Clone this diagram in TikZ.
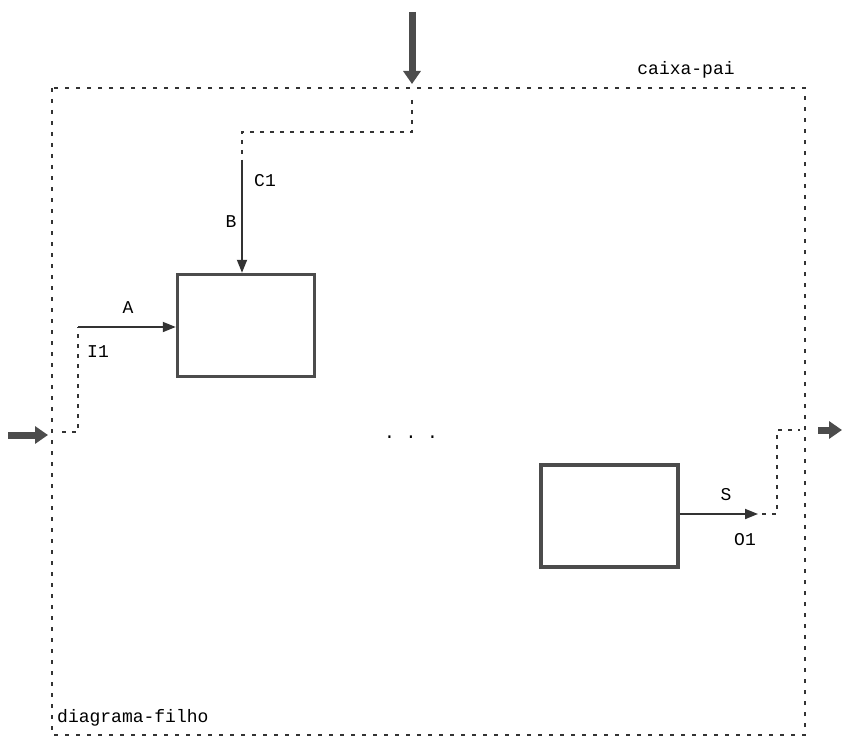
\documentclass[tikz,border=0pt]{standalone}
\usepackage{fontspec}
\setmonofont{Liberation Mono}
\usetikzlibrary{arrows.meta}
\begin{document}
\begin{tikzpicture}[x=1pt,y=-1pt,
  proc/.style={draw=black!70,line width=3.5pt,minimum width=137pt,minimum height=102pt,inner sep=0pt},
  bord/.style={draw=black!80,line width=1.5pt,dash pattern=on 4pt off 7pt},
  tun/.style={draw=black!80,line width=1.5pt,dash pattern=on 4pt off 6pt},
  flow/.style={draw=black!80,line width=1.8pt,-{Triangle[length=13pt,width=10pt]}},
  big/.style={draw=black!70,line width=7pt,-{Triangle[length=13pt,width=17pt]}},
  lab/.style={font=\ttfamily\fontsize{18}{18}\selectfont,inner sep=0pt}]
\useasboundingbox (0,0) rectangle (842,754);
% outer box
\draw[bord] (52,88) rectangle (805,735);
\node[lab] (pai) at (686,70) {caixa-pai};
\node[lab,anchor=west] (filho) at (57,718) {diagrama-filho};
% boxes
\node[proc] (b1) at (246,325.5) {};
\node[proc] (b2) at (609.5,516) {};
% coordinates
\coordinate (t0) at (412,12);
\coordinate (t1) at (412,84);
\coordinate (t2) at (412,100);
\coordinate (t3) at (412,132);
\coordinate (t4) at (242,132);
\coordinate (t5) at (242,160);
\coordinate (l0) at (8,435);
\coordinate (l1) at (48,435);
\coordinate (l2) at (62,432);
\coordinate (l3) at (78,432);
\coordinate (l4) at (78,327);
\coordinate (r1) at (758,514);
\coordinate (r2) at (762,514);
\coordinate (r3) at (777,514);
\coordinate (r4) at (777,430);
\coordinate (r5) at (800,430);
\coordinate (r6) at (818,430);
\coordinate (r7) at (842,430);
% top control
\draw[big] (t0) -- (t1);
\draw[tun] (t2) -- (t3) -- (t4) -- (t5);
\draw[flow] (t5) -- (t5 |- b1.north);
\node[lab] (c1) at (265,181) {C1};
\node[lab] (lb) at (231,222) {B};
% left input
\draw[big] (l0) -- (l1);
\draw[tun] (l2) -- (l3) -- (l4);
\draw[flow] (l4) -- (l4 -| b1.west);
\node[lab] (la) at (128,308) {A};
\node[lab] (li) at (98,352) {I1};
% right output
\draw[flow] (b2.east |- r1) -- (r1);
\draw[tun] (r2) -- (r3) -- (r4) -- (r5);
\draw[big] (r6) -- (r7);
\node[lab] (ls) at (726,495) {S};
\node[lab] (lo) at (745,540) {O1};
% dots
\node[lab] (dots) at (411,437) {. . .};
\end{tikzpicture}
\end{document}
